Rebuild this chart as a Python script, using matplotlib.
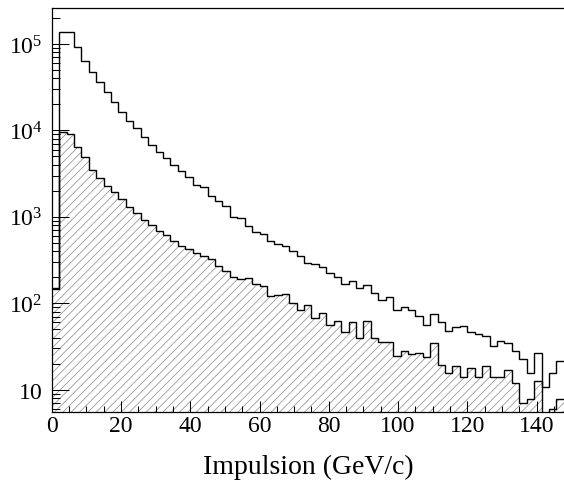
import numpy as np
import matplotlib
matplotlib.use("Agg")
import matplotlib.pyplot as plt
from matplotlib.ticker import MultipleLocator, LogLocator, FuncFormatter, NullFormatter

# ---- data (counts per bin, 70 bins over 0-150 GeV/c, last visible bin index 68) ----
p_min, p_max, n_bins = 0.0, 150.0, 70
upper_counts = [150, 1.39e5, 1.39e5, 9.16e4, 6.4e4, 4.78e4, 3.6e4, 2.76e4, 2.11e4, 1.62e4,
                1.29e4, 1.06e4, 8.3e3, 6.8e3, 5.7e3, 4.75e3, 3.95e3, 3.4e3, 2.87e3, 2.33e3,
                2.19e3, 1.75e3, 1.53e3, 1.32e3, 986, 960, 789, 661, 632, 529,
                484, 463, 405, 349, 292, 284, 260, 224, 203, 167,
                179, 150, 163, 130, 110, 119, 83, 91, 83, 72,
                56, 75, 60, 48, 53, 54, 47, 44, 42, 32,
                37, 35, 28, 22.6, 15.8, 26.5, 10.7, 15.8, 21.6]
lower_counts = [145, 9.6e3, 9.1e3, 6.5e3, 4.9e3, 3.5e3, 2.79e3, 2.29e3, 1.95e3, 1.61e3,
                1.29e3, 1.11e3, 925, 803, 690, 615, 520, 462, 424, 378,
                355, 325, 272, 238, 199, 191, 196, 167, 160, 122,
                124, 128, 100, 84, 95, 67, 77, 56, 63, 46,
                60, 40, 62, 40, 36, 36, 24.7, 28.2, 25.8, 26.5,
                23.7, 34.3, 19.3, 15.8, 18.9, 13.9, 17.6, 13.9, 18.9, 13.9,
                13.9, 16.7, 12.1, 7.0, 7.8, 12.7, 0, 5.9, 7.9]
x_label = "Impulsion (GeV/c)"

plt.rcParams['font.family'] = ['Liberation Serif', 'DejaVu Serif']
plt.rcParams['mathtext.fontset'] = 'custom'
plt.rcParams['mathtext.rm'] = 'Liberation Serif'
plt.rcParams['mathtext.it'] = 'Liberation Serif:italic'
plt.rcParams['mathtext.bf'] = 'Liberation Serif:bold'
plt.rcParams['hatch.linewidth'] = 0.6

edges = np.linspace(p_min, p_max, n_bins + 1)[:len(upper_counts) + 1]

W, H = 564, 481
fig = plt.figure(figsize=(W / 100, H / 100), dpi=100)
left_px, top_px, bottom_px = 51.7, 9.0, 412.7
ax = fig.add_axes([left_px / W, (H - bottom_px) / H, 1 - left_px / W, (bottom_px - top_px) / H])

ax.stairs(lower_counts, edges, baseline=0, fill=True, hatch='////',
          facecolor='none', edgecolor='#9a9a9a', linewidth=0)
ax.stairs(lower_counts, edges, baseline=None, color='black', linewidth=1.0)
ax.stairs(upper_counts, edges, baseline=None, color='black', linewidth=1.0)

ax.set_yscale('log')
ax.set_ylim(5.56, 2.61e5)
ax.set_xlim(0, (W - left_px) / 3.4634)

ax.xaxis.set_major_locator(MultipleLocator(20))
ax.xaxis.set_minor_locator(MultipleLocator(5))
ax.yaxis.set_major_locator(LogLocator(base=10, numticks=10))
ax.yaxis.set_minor_locator(LogLocator(base=10, subs=np.arange(2, 10), numticks=20))
ax.yaxis.set_minor_formatter(NullFormatter())


def fmt(v, pos):
    k = int(round(np.log10(v)))
    if k == 1:
        return r'$10\hspace{0.45}$'
    return r'$10^{%d}$' % k


ax.yaxis.set_major_formatter(FuncFormatter(fmt))

ax.tick_params(which='both', direction='in', top=False, right=False, width=0.75, colors='black')
ax.tick_params(axis='x', which='major', length=8, pad=2.4, labelsize=17)
ax.tick_params(axis='x', which='minor', length=4)
ax.tick_params(axis='y', which='major', length=12, pad=6.5, labelsize=17)
ax.tick_params(axis='y', which='minor', length=5.5)

for s in ['left', 'bottom', 'top']:
    ax.spines[s].set_linewidth(0.9)
ax.spines['right'].set_visible(False)

ax.set_xlabel(x_label, fontsize=20, va='baseline')
ax.xaxis.set_label_coords(0.5, (H - 474.5 - (H - bottom_px)) / (bottom_px - top_px))

fig.savefig('out.png', dpi=100)
